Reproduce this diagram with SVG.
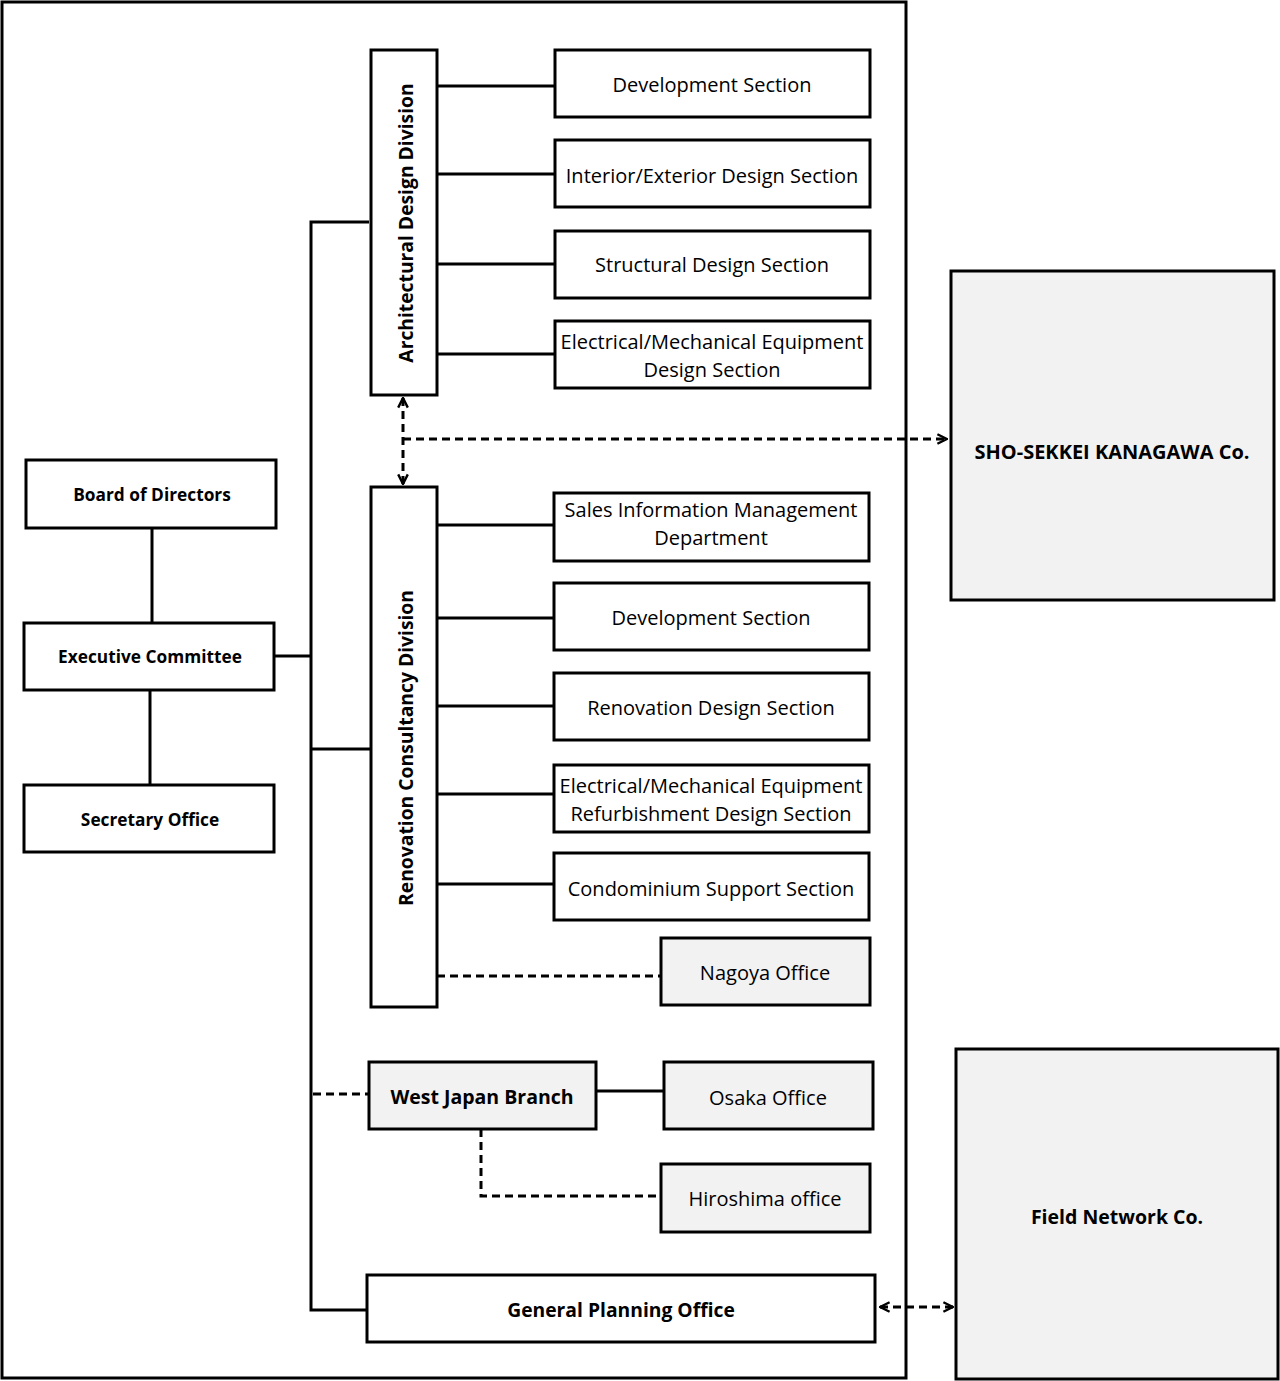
<svg xmlns="http://www.w3.org/2000/svg" width="1280" height="1381" viewBox="0 0 1280 1381">
<style>
.box{fill:#ffffff;stroke:#000;stroke-width:3}
.grey{fill:#f2f2f2;stroke:#000;stroke-width:3}
.ln{fill:none;stroke:#000;stroke-width:3}
.dash{fill:none;stroke:#000;stroke-width:3;stroke-dasharray:8,5}
.t{font-family:"Open Sans","Noto Sans","DejaVu Sans",sans-serif;font-size:20px;fill:#000;text-anchor:middle;dominant-baseline:central}
.b{font-family:"Open Sans","Noto Sans","DejaVu Sans",sans-serif;font-weight:bold;fill:#000;text-anchor:middle;dominant-baseline:central}
</style>
<defs>
<marker id="arr" viewBox="0 0 10 10" refX="9" refY="5" markerWidth="4" markerHeight="4" orient="auto-start-reverse" markerUnits="strokeWidth">
<path d="M1,1 L9,5 L1,9" fill="none" stroke="#000" stroke-width="2"/>
</marker>
</defs>
<rect id="frame" x="2" y="2" width="904" height="1376" fill="none" stroke="#000" stroke-width="3"/>
<g id="connectors">
<path class="ln" d="M152,528 V623"/>
<path class="ln" d="M150,690 V785"/>
<path class="ln" d="M274,656 H312"/>
<path class="ln" d="M369,222 H311 V1310 H367"/>
<path class="ln" d="M312,749 H371"/>
<path class="ln" d="M437,86 H555"/>
<path class="ln" d="M437,174 H555"/>
<path class="ln" d="M437,264 H555"/>
<path class="ln" d="M437,354 H555"/>
<path class="ln" d="M437,525 H554"/>
<path class="ln" d="M437,618 H554"/>
<path class="ln" d="M437,706 H554"/>
<path class="ln" d="M437,794 H554"/>
<path class="ln" d="M437,884 H554"/>
<path class="dash" d="M437,976 H661"/>
<path class="dash" d="M313,1094 H369"/>
<path class="ln" d="M596,1091 H664"/>
<path class="dash" d="M481,1129 V1196 H661"/>
<path class="dash" d="M403,398 V484" marker-start="url(#arr)" marker-end="url(#arr)"/>
<path class="dash" d="M403,439 H947" marker-end="url(#arr)"/>
<path class="dash" d="M880,1307 H953" marker-start="url(#arr)" marker-end="url(#arr)"/>
</g>
<g id="board"><rect class="box" x="26" y="460" width="250" height="68"/><text class="b" x="152" y="494" font-size="17.3">Board of Directors</text></g>
<g id="exec"><rect class="box" x="24" y="623" width="250" height="67"/><text class="b" x="150" y="656" font-size="17.3">Executive Committee</text></g>
<g id="secretary"><rect class="box" x="24" y="785" width="250" height="67"/><text class="b" x="150" y="819" font-size="17.3">Secretary Office</text></g>
<g id="arch"><rect class="box" x="371" y="50" width="66" height="345"/><text class="b" font-size="19.3" transform="translate(405,223) rotate(-90)">Architectural Design Division</text></g>
<g id="dev1"><rect class="box" x="555" y="50" width="315" height="67"/><text class="t" x="712" y="84">Development Section</text></g>
<g id="interior"><rect class="box" x="555" y="140" width="315" height="67"/><text class="t" x="712" y="175">Interior/Exterior Design Section</text></g>
<g id="structural"><rect class="box" x="555" y="231" width="315" height="67"/><text class="t" x="712" y="264">Structural Design Section</text></g>
<g id="elec1"><rect class="box" x="555" y="321" width="315" height="67"/><text class="t" x="712" y="341">Electrical/Mechanical Equipment</text><text class="t" x="712" y="369">Design Section</text></g>
<g id="reno"><rect class="box" x="371" y="487" width="66" height="520"/><text class="b" font-size="19.3" transform="translate(405,748) rotate(-90)">Renovation Consultancy Division</text></g>
<g id="sales"><rect class="box" x="554" y="493" width="315" height="68"/><text class="t" x="711" y="509">Sales Information Management</text><text class="t" x="711" y="537">Department</text></g>
<g id="dev2"><rect class="box" x="554" y="583" width="315" height="67"/><text class="t" x="711" y="617">Development Section</text></g>
<g id="renodesign"><rect class="box" x="554" y="673" width="315" height="67"/><text class="t" x="711" y="707">Renovation Design Section</text></g>
<g id="elec2"><rect class="box" x="554" y="765" width="315" height="67"/><text class="t" x="711" y="785">Electrical/Mechanical Equipment</text><text class="t" x="711" y="813">Refurbishment Design Section</text></g>
<g id="condo"><rect class="box" x="554" y="853" width="315" height="67"/><text class="t" x="711" y="888">Condominium Support Section</text></g>
<g id="nagoya"><rect class="grey" x="661" y="938" width="209" height="67"/><text class="t" x="765" y="972">Nagoya Office</text></g>
<g id="westjapan"><rect class="grey" x="369" y="1062" width="227" height="67"/><text class="b" x="482" y="1096" font-size="19.5">West Japan Branch</text></g>
<g id="osaka"><rect class="grey" x="664" y="1062" width="209" height="67"/><text class="t" x="768" y="1097">Osaka Office</text></g>
<g id="hiroshima"><rect class="grey" x="661" y="1164" width="209" height="68"/><text class="t" x="765" y="1198">Hiroshima office</text></g>
<g id="general"><rect class="box" x="367" y="1275" width="508" height="67"/><text class="b" x="621" y="1309" font-size="19.3">General Planning Office</text></g>
<g id="sho"><rect class="grey" x="951" y="271" width="323" height="329"/><text class="b" x="1112" y="451" font-size="20">SHO-SEKKEI KANAGAWA Co.</text></g>
<g id="field"><rect class="grey" x="956" y="1049" width="322" height="330"/><text class="b" x="1117" y="1216" font-size="19.5">Field Network Co.</text></g>
</svg>
